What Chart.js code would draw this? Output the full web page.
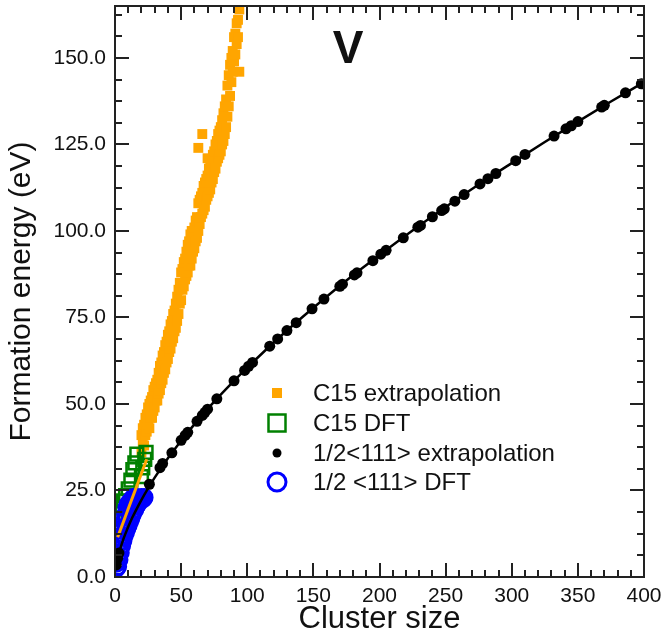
<!DOCTYPE html>
<html>
<head>
<meta charset="utf-8">
<title>Formation energy V</title>
<script src="https://cdn.jsdelivr.net/npm/chart.js@4.4.1/dist/chart.umd.min.js"></script>
<style>
html, body { margin: 0 ; padding: 0 ; background: #fff ; }
canvas { display: block ; }
</style>
</head>
<body>
<canvas id="chart" width="665" height="640"></canvas>
<script>
// [cluster size, formation energy (eV)]
const c15Ext = [
    [20,36],[20,41],[21,39],[21,43],[22,38],[22,44],[23,41],[23,46],[24,42],[24,47],
    [25,44],[25,49],[26,43],[26,50],[27,46],[27,51],[28,46],[28,52],[29,48],[29,54],
    [30,49],[30,55],[31,51],[31,56],[32,51],[32,57],[33,53],[33,59],[34,54],[34,61],
    [35,56],[35,62],[36,57],[36,64],[37,59],[37,65],[38,60],[38,67],[39,62],[39,68],
    [40,63],[40,70],[41,65],[41,71],[42,66],[42,73],[43,68],[43,74],[44,69],[44,76],
    [45,71],[45,77],[46,72],[46,79],[47,74],[47,81],[48,76],[48,83],[49,79],[49,85],
    [50,80],[50,88],[51,83],[51,89],[52,84],[52,91],[53,86],[53,92],[54,87],[54,94],
    [55,88],[55,96],[56,90],[56,97],[57,90],[57,99],[58,92],[58,100],[59,94],[59,98],
    [60,95],[60,101],[61,97],[61,103],[62,98],[62,104],[63,100],[63,108],[63,124],
    [64,102],[64,109],[65,104],[65,110],[66,105],[66,111],[66,128],[67,106],[67,113],
    [68,107],[68,114],[69,109],[69,115],[70,110],[70,116],[70,121],[71,111],[71,118],
    [72,112],[72,119],[73,114],[73,120],[74,115],[74,122],[75,117],[75,123],[76,118],[76,125],
    [77,120],[77,126],[78,121],[78,128],[79,122],[79,129],[80,123],[80,130],[81,125],[81,132],
    [82,126],[82,134],[83,128],[83,136],[84,130],[84,138],[85,133],[85,142],[86,136],[86,145],
    [87,139],[87,148],[88,143],[88,150],[89,146],[89,152],[90,149],[90,156],[91,151],[91,157],
    [92,154],[92,160],[93,156],[93,161],[94,146],[94,164]
] ;

const c15Dft = [
    [4,11],[4.5,14],[5,17],[5.5,20],[6.5,22],[8,17],[10,19],[12,21],
    [8,23.5],[10,25.5],[12,28],[13.5,31],[15,33],[16.5,35.5],
    [20,29],[21,31.5],[22.5,34],[23.5,36]
] ;

const loopExt = [
    [1,3.5],[2,5.4],[3,6.9],[26,26.8],[34,31.6],[36,32.8],[43,35.9],[50,39.5],[53,40.9],
    [55,41.8],[62,45.0],[66,46.7],[68,47.6],[70,48.5],[77,51.5],[90,56.7],[98,59.7],
    [101,60.9],[104,62.0],[117,66.7],[123,68.8],[130,71.2],[137,73.5],[149,77.5],
    [158,80.3],[170,84.0],[172,84.6],[181,87.3],[183,87.9],[195,91.4],[201,93.3],
    [205,94.4],[218,98.0],[229,101.1],[231,101.6],[240,104.1],[247,105.9],[249,106.4],
    [257,108.6],[264,110.5],[276,113.6],[282,115.1],[288,116.6],[303,120.3],[310,122.1],
    [332,127.4],[341,129.5],[345,130.4],[350,131.6],[368,135.8],[370,136.3],[386,139.9],
    [398,142.5]
] ;

const loopDft = [
    [1,2.5],[1,4],[2,3],[2,6],[3,5],[3,8],[4,7],[4,10],[5,9],[5,12],[6,10.5],[6,14],
    [7,12],[7,16],[8,13],[8,18],[9,14],[9,20],[10,15],[10,21],[11,16],[11,21.5],
    [12,17],[12,22],[13,18],[13,22.5],[14,19],[14,23],[15,19.5],[15,23],[16,20.5],
    [17,21],[17,23],[18,22],[19,22.5],[20,23],[21,22.5],[22,23]
] ;

// fitted curves
const c15Fit = [[2,11.5],[24,34]] ;
const loopFit = [
    [1,3.5],[2,5.4],[3,6.9],[4,8.2],[6,10.6],[8,12.6],[10,14.5],[13,17.1],[16,19.4],
    [20,22.3],[25,25.6],[30,28.7],[40,34.3],[50,39.4],[60,44.1],[75,50.7],[90,56.7],
    [100,60.5],[125,69.5],[150,77.8],[175,85.7],[200,93.0],[225,100.1],[250,106.9],
    [275,113.4],[300,119.6],[325,125.7],[350,131.6],[375,137.4],[400,143.0]
] ;

const legendItems = ['C15 extrapolation', 'C15 DFT', '1/2<111> extrapolation', '1/2 <111> DFT'] ;
const panelLabel = 'V' ;

const fontFamily = '"Liberation Sans", Arial, Helvetica, sans-serif' ;
const orange = '#ffa500' ;
const green = '#008000' ;
const blue = '#0000ff' ;
const ink = '#111' ;

function toPoints(pairs) {
    return pairs.map(p => ({ x: p[0], y: p[1] })) ;
}

// xmgrace-like frame with inward ticks on all sides
const frameTicks = {
    id: 'frameTicks',
    afterDatasetsDraw(chart) {
        const { ctx, chartArea: { left, right, top, bottom }, scales: { x, y } } = chart ;
        ctx.save() ;
        ctx.strokeStyle = '#222' ;
        ctx.lineWidth = 2 ;
        ctx.beginPath() ;
        for (let v = 0 ; v <= x.max ; v += 10) {
            const px = Math.round(x.getPixelForValue(v)) ;
            const len = v % 50 === 0 ? 14 : 7 ;
            ctx.moveTo(px, bottom) ; ctx.lineTo(px, bottom - len) ;
            ctx.moveTo(px, top) ; ctx.lineTo(px, top + len) ;
        }
        for (let v = 0 ; v <= y.max ; v += 6.25) {
            const py = Math.round(y.getPixelForValue(v)) ;
            const len = v % 25 === 0 ? 14 : 7 ;
            ctx.moveTo(left, py) ; ctx.lineTo(left + len, py) ;
            ctx.moveTo(right, py) ; ctx.lineTo(right - len, py) ;
        }
        ctx.stroke() ;
        ctx.strokeRect(left, top, right - left, bottom - top) ;
        ctx.restore() ;
    },
    afterDraw(chart) {
        const { ctx } = chart ;
        ctx.save() ;
        // panel label
        ctx.fillStyle = ink ;
        ctx.font = 'bold 46px ' + fontFamily ;
        ctx.textAlign = 'center' ;
        ctx.textBaseline = 'alphabetic' ;
        ctx.fillText(panelLabel, 348, 63) ;

        // legend
        const mx = 277, tx = 313 ;
        const rows = [393, 423, 453, 482] ;
        ctx.fillStyle = orange ;
        ctx.fillRect(mx - 5, rows[0] - 5, 10, 10) ;
        ctx.strokeStyle = green ;
        ctx.lineWidth = 2.5 ;
        ctx.strokeRect(mx - 8.5, rows[1] - 8.5, 17, 17) ;
        ctx.fillStyle = '#000' ;
        ctx.beginPath() ; ctx.arc(mx, rows[2], 4.5, 0, Math.PI * 2) ; ctx.fill() ;
        ctx.strokeStyle = blue ;
        ctx.lineWidth = 3 ;
        ctx.beginPath() ; ctx.arc(mx, rows[3], 9, 0, Math.PI * 2) ; ctx.stroke() ;

        ctx.fillStyle = ink ;
        ctx.font = '24px ' + fontFamily ;
        ctx.textAlign = 'left' ;
        ctx.textBaseline = 'middle' ;
        legendItems.forEach((t, i) => ctx.fillText(t, tx, rows[i] + 1)) ;
        ctx.restore() ;
    }
} ;

const chart = new Chart(document.getElementById('chart'), {
    type: 'scatter',
    data: {
        datasets: [{
            label: 'C15 fit',
            data: toPoints(c15Fit),
            showLine: true,
            borderColor: orange,
            borderWidth: 3,
            pointRadius: 0,
            order: 0
        }, {
            label: '1/2<111> fit',
            data: toPoints(loopFit),
            showLine: true,
            borderColor: '#000',
            borderWidth: 2.5,
            cubicInterpolationMode: 'monotone',
            pointRadius: 0,
            order: 1
        }, {
            label: legendItems[2],
            data: toPoints(loopExt),
            pointStyle: 'circle',
            pointRadius: 5.5,
            backgroundColor: '#000',
            borderColor: '#000',
            borderWidth: 0,
            order: 2
        }, {
            label: legendItems[3],
            data: toPoints(loopDft),
            pointStyle: 'circle',
            pointRadius: 8,
            backgroundColor: 'rgba(0,0,0,0)',
            borderColor: blue,
            borderWidth: 3,
            order: 3
        }, {
            label: legendItems[1],
            data: toPoints(c15Dft),
            pointStyle: 'rect',
            pointRadius: 9,
            backgroundColor: 'rgba(0,0,0,0)',
            borderColor: green,
            borderWidth: 2.5,
            order: 4
        }, {
            label: legendItems[0],
            data: toPoints(c15Ext),
            pointStyle: 'rect',
            pointRadius: 7,
            backgroundColor: orange,
            borderColor: orange,
            borderWidth: 0,
            order: 5
        }]
    },
    options: {
        responsive: false,
        animation: false,
        devicePixelRatio: 1,
        events: [],
        layout: { autoPadding: false, padding: { top: 6, right: 21, bottom: 0, left: 0 } },
        scales: {
            x: {
                type: 'linear',
                min: 0,
                max: 400,
                afterFit: (s) => { s.height = 63 ; s.paddingLeft = 0 ; s.paddingRight = 0 ; },
                grid: { display: false, drawTicks: false },
                border: { display: false },
                ticks: {
                    stepSize: 50,
                    padding: 7,
                    maxRotation: 0,
                    color: ink,
                    font: { family: fontFamily, size: 21 }
                },
                title: {
                    display: true,
                    text: 'Cluster size',
                    color: ink,
                    font: { family: fontFamily, size: 31 },
                    padding: { top: 0, bottom: 2 }
                }
            },
            y: {
                type: 'linear',
                min: 0,
                max: 165,
                afterFit: (s) => { s.width = 115 ; s.paddingTop = 0 ; s.paddingBottom = 0 ; },
                grid: { display: false, drawTicks: false },
                border: { display: false },
                ticks: {
                    stepSize: 25,
                    includeBounds: false,
                    padding: 9,
                    color: ink,
                    font: { family: fontFamily, size: 21 },
                    callback: (v) => v.toFixed(1)
                },
                title: {
                    display: true,
                    text: 'Formation energy (eV)',
                    color: ink,
                    font: { family: fontFamily, size: 30 },
                    padding: { top: 4, bottom: 0 }
                }
            }
        },
        plugins: {
            legend: { display: false },
            tooltip: { enabled: false }
        }
    },
    plugins: [frameTicks]
}) ;
</script>
</body>
</html>
